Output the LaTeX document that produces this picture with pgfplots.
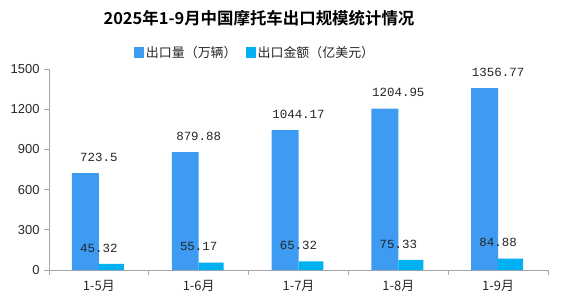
\documentclass[border=0pt]{standalone}
\usepackage{pgfplots}
\pgfplotsset{compat=1.18}
\usepackage{fontspec}
\setmainfont{Liberation Sans}
\newfontfamily\cjk{Noto Sans CJK SC}
\newfontfamily\cjkb{Noto Sans CJK SC Bold}
\newfontfamily\monof{Liberation Mono}
\definecolor{barblue}{HTML}{3D9BF2}
\definecolor{barcyan}{HTML}{00B0F0}
\definecolor{axgray}{HTML}{A6A6A6}
\definecolor{txt}{HTML}{262626}
\begin{document}
\begin{tikzpicture}[x=1bp,y=1bp]
\useasboundingbox (0,0) rectangle (564,300);
\node[font=\cjkb\fontsize{16.5}{18}\selectfont, text=black] at (259,282) {2025年1-9月中国摩托车出口规模统计情况};
\begin{axis}[
  at={(49bp,30bp)}, anchor=south west,
  scale only axis, width=499bp, height=201bp,
  xmin=-0.5, xmax=4.5, ymin=0, ymax=1500,
  axis x line*=bottom, axis y line*=left,
  axis line style={axgray, line width=0.8pt, -},
  ytick={0,300,600,900,1200,1500},
  xtick={0,1,2,3,4},
  xticklabels={1-5月,1-6月,1-7月,1-8月,1-9月},
  minor xtick={-0.5,0.5,1.5,2.5,3.5,4.5},
  major x tick style={draw=none},
  minor x tick style={axgray, line width=0.8pt},
  minor tick length=5bp,
  y tick style={axgray, line width=0.8pt},
  major tick length=5bp,
  tick align=outside,
  yticklabel style={font=\fontsize{13}{15}\selectfont, text=txt, xshift=-1bp,
    /pgf/number format/1000 sep={}},
  xticklabel style={font=\cjk\fontsize{13}{15}\selectfont, text=txt, yshift=-2bp},
  /pgf/number format/assume math mode=true,
  /pgf/number format/1000 sep={},
  scaled y ticks=false,
  point meta=explicit symbolic,
  nodes near coords,
  every node near coord/.append style={font=\monof\fontsize{12.5}{14}\selectfont, text=txt, anchor=center, yshift=16bp},
  legend style={at={(0.413,1.08)}, anchor=center, draw=none, fill=none,
    legend columns=2, font=\cjk\fontsize{13}{15}\selectfont, text=txt,
    /tikz/every even column/.append style={column sep=8bp},
    nodes={inner sep=1.5bp}},
  legend image code/.code={\path[#1] (0bp,-5.5bp) rectangle (10bp,5.5bp);},
  clip=false,
]
\addplot[ybar, bar width=0.27, bar shift=-0.135, fill=barblue, draw=none]
  coordinates {(0,723.5)[723.5] (1,879.88)[879.88] (2,1044.17)[1044.17] (3,1204.95)[1204.95] (4,1356.77)[1356.77]};
\addlegendentry{出口量（万辆）}
\addplot[ybar, bar width=0.25, bar shift=0.125, fill=barcyan, draw=none]
  coordinates {(0,45.32)[45.32] (1,55.17)[55.17] (2,65.32)[65.32] (3,75.33)[75.33] (4,84.88)[84.88]};
\addlegendentry{出口金额（亿美元）}
\end{axis}
\end{tikzpicture}
\end{document}
